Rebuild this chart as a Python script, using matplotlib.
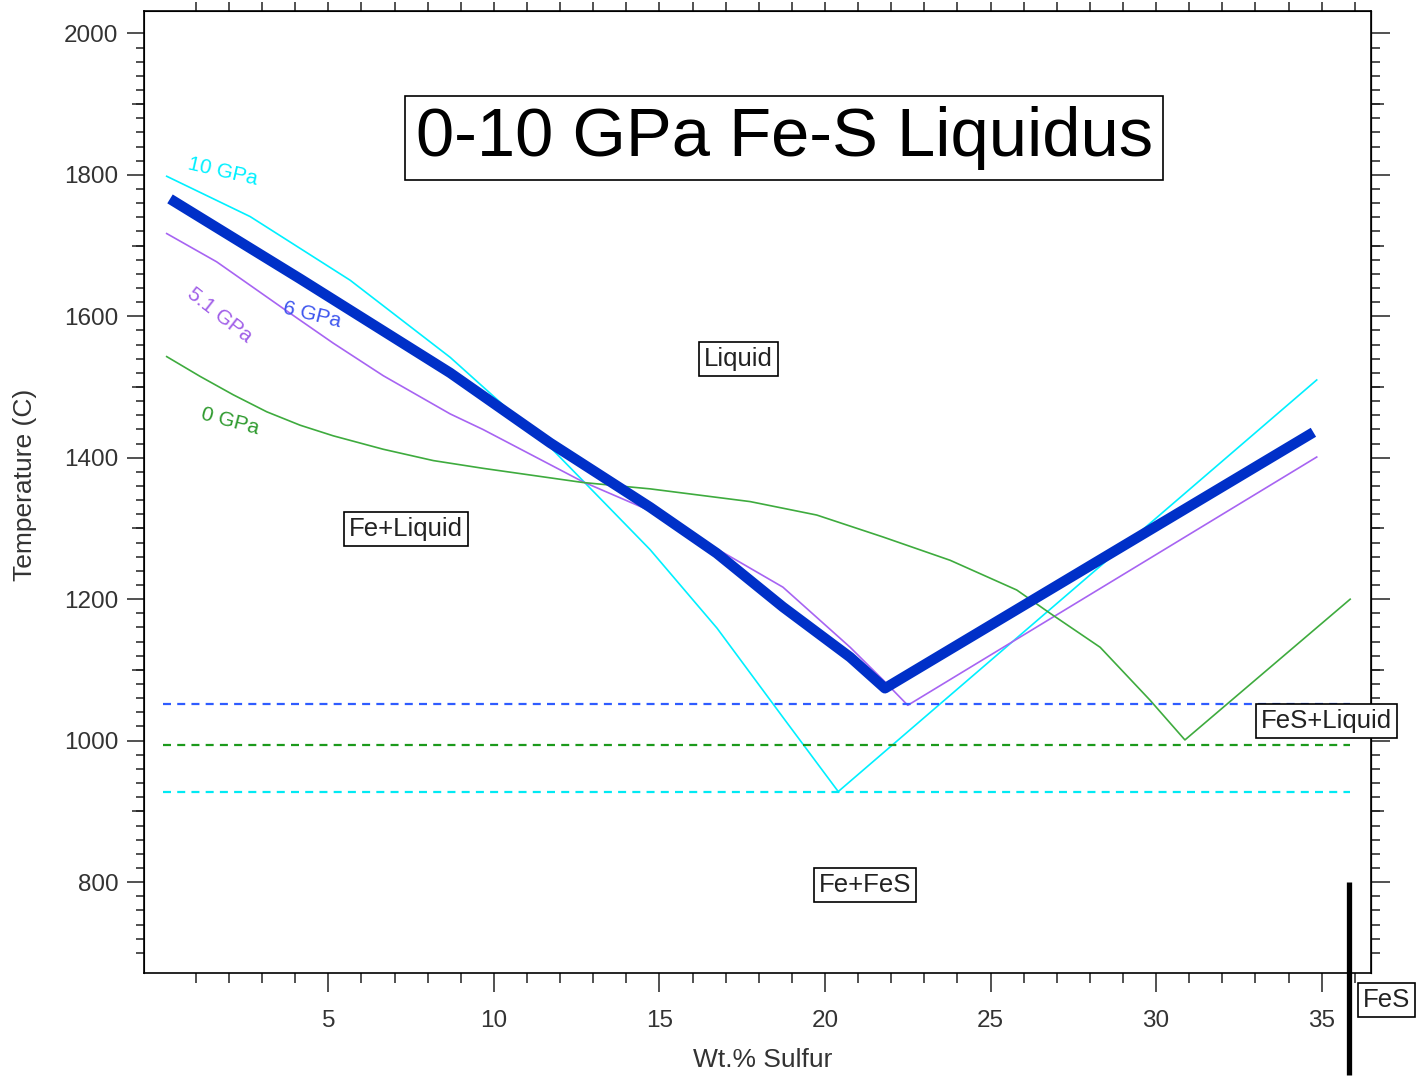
import matplotlib
matplotlib.use("Agg")
import matplotlib.pyplot as plt
from matplotlib.ticker import FixedLocator, NullFormatter

plt.rcParams['font.family'] = ['Liberation Sans', 'DejaVu Sans']

# liquidus curves (wt.% S, temperature C)
s_10gpa = [0.12, 2.64, 5.66, 8.68, 11.7, 14.72, 16.74, 18.73, 20.4, 34.85]
t_10gpa = [1798, 1741, 1651, 1542, 1415, 1270, 1159, 1033, 928, 1510]

s_6gpa = [0.22, 4.15, 8.68, 11.7, 14.72, 16.73, 18.73, 20.76, 21.81, 34.75]
t_6gpa = [1766, 1653, 1520, 1421, 1330, 1265, 1189, 1118, 1074, 1436]

s_51gpa = [0.12, 1.63, 3.64, 5.15, 6.66, 8.68, 9.67, 12.69, 14.72, 16.74,
           18.73, 20.76, 21.75, 22.5, 34.85]
t_51gpa = [1717, 1677, 1611, 1562, 1516, 1462, 1440, 1366, 1325, 1271,
           1217, 1132, 1086, 1050, 1401]

s_0gpa = [0.12, 1.13, 2.13, 3.14, 4.15, 5.15, 6.66, 8.17, 9.68, 12.69,
          14.72, 17.74, 19.75, 21.75, 23.78, 25.79, 26.8, 28.31, 29.82,
          30.87, 35.86]
t_0gpa = [1543, 1515, 1489, 1465, 1446, 1431, 1412, 1396, 1385, 1365,
          1356, 1338, 1319, 1288, 1255, 1213, 1180, 1132, 1057,
          1001, 1200]

# eutectic temperatures (dashed)
eut_s = [0, 35.86]
eut_t = [1052, 994, 927]
eut_colors = ['#2f5cff', '#1c9a1c', '#00eaf4']

# FeS composition marker
fes_s = 35.83
fes_t = [800, 527]

x_major = [5, 10, 15, 20, 25, 30, 35]
x_minor = list(range(1, 37))
y_major = list(range(800, 2001, 200))
y_minor = list(range(700, 2001, 20))
y_mid = list(range(900, 2000, 200))

fig = plt.figure(figsize=(14.21, 10.88), dpi=100)
ax = fig.add_axes([0.101, 0.1054, 0.8636, 0.8847])

ax.plot(s_10gpa, t_10gpa, color='#00f0ff', lw=1.2)
ax.plot(s_51gpa, t_51gpa, color='#a764f2', lw=1.2)
ax.plot(s_0gpa, t_0gpa, color='#3eab3e', lw=1.2)
ax.plot(s_6gpa, t_6gpa, color='#0030c8', lw=7.5, solid_capstyle='butt')

for T, c in zip(eut_t, eut_colors):
    ax.plot(eut_s, [T, T], color=c, lw=1.6, dashes=(3.6, 2.8))

ax.plot([fes_s, fes_s], fes_t, color='black', lw=3.8, clip_on=False,
        solid_capstyle='butt')

ax.set_xlim(-0.58, 36.48)
ax.set_ylim(671, 2032)

box = dict(boxstyle='square,pad=0.2', fc='white', ec='black', lw=1.2)
ax.text(18.77, 1852, '0-10 GPa Fe-S Liquidus', fontsize=49.5, ha='center',
        va='center', color='black',
        bbox=dict(boxstyle='square,pad=0.15', fc='white', ec='black', lw=1.2))
ax.text(17.38, 1540, 'Liquid', fontsize=18.5, ha='center', va='center', bbox=box,
        color='#222222')
ax.text(7.35, 1299, 'Fe+Liquid', fontsize=18.5, ha='center', va='center', bbox=box,
        color='#222222')
ax.text(35.15, 1028, 'FeS+Liquid', fontsize=18.5, ha='center', va='center', bbox=box,
        color='#222222', zorder=5)
ax.text(21.21, 796, 'Fe+FeS', fontsize=18.5, ha='center', va='center', bbox=box,
        color='#222222')
ax.text(36.96, 633, 'FeS', fontsize=18.5, ha='center', va='center', bbox=box,
        color='#222222')

ax.text(1.82, 1804, '10 GPa', color='#00f0ff', fontsize=15, rotation=-13,
        ha='center', va='center', rotation_mode='anchor')
ax.text(4.5, 1602, '6 GPa', color='#3d55ee', fontsize=15, rotation=-14,
        ha='center', va='center', rotation_mode='anchor')
ax.text(1.73, 1602, '5.1 GPa', color='#a05ee8', fontsize=15, rotation=-38,
        ha='center', va='center', rotation_mode='anchor')
ax.text(2.03, 1451, '0 GPa', color='#2e9a2e', fontsize=15, rotation=-15,
        ha='center', va='center', rotation_mode='anchor')

# axes, ticks
for sp in ax.spines.values():
    sp.set_linewidth(1.2)
ax.xaxis.set_major_locator(FixedLocator(x_major))
ax.xaxis.set_minor_locator(FixedLocator(x_minor))
ax.yaxis.set_major_locator(FixedLocator(y_major))
ax.yaxis.set_minor_locator(FixedLocator(y_minor))
ax.tick_params(axis='x', which='major', direction='out', length=13.7, width=1.1,
               labelsize=17.5, pad=13, colors='#222222', labelcolor='#333333')
ax.tick_params(axis='x', which='minor', direction='out', length=7.2, width=1.1,
               colors='#222222')
ax.tick_params(axis='y', which='major', direction='out', length=12, width=1.1,
               labelsize=17.5, pad=6, colors='#222222', labelcolor='#333333')
ax.tick_params(axis='y', which='minor', direction='out', length=6, width=1.1,
               colors='#222222')

top = ax.secondary_xaxis('top')
top.xaxis.set_major_locator(FixedLocator(x_minor))
top.xaxis.set_major_formatter(NullFormatter())
top.tick_params(direction='out', length=6.5, width=1.1, colors='#222222')

right = ax.secondary_yaxis('right')
right.yaxis.set_major_locator(FixedLocator(y_major))
right.yaxis.set_minor_locator(FixedLocator(y_minor))
right.yaxis.set_major_formatter(NullFormatter())
right.tick_params(which='major', direction='out', length=13.5, width=1.1,
                  colors='#222222')
right.tick_params(which='minor', direction='out', length=6.7, width=1.1,
                  colors='#222222')

right_mid = ax.secondary_yaxis('right')
right_mid.yaxis.set_major_locator(FixedLocator(y_mid))
right_mid.yaxis.set_major_formatter(NullFormatter())
right_mid.tick_params(direction='out', length=9.6, width=1.1, colors='#222222')

left_mid = ax.secondary_yaxis('left')
left_mid.yaxis.set_major_locator(FixedLocator(y_mid))
left_mid.yaxis.set_major_formatter(NullFormatter())
left_mid.tick_params(direction='out', length=8.4, width=1.1, colors='#222222')

ax.set_xlabel('Wt.% Sulfur', fontsize=19, color='#333333')
ax.set_ylabel('Temperature (C)', fontsize=19, color='#333333')
ax.xaxis.set_label_coords(0.5048, -0.0776)
ax.yaxis.set_label_coords(-0.087, 0.507)

fig.savefig('out.png', dpi=100)
